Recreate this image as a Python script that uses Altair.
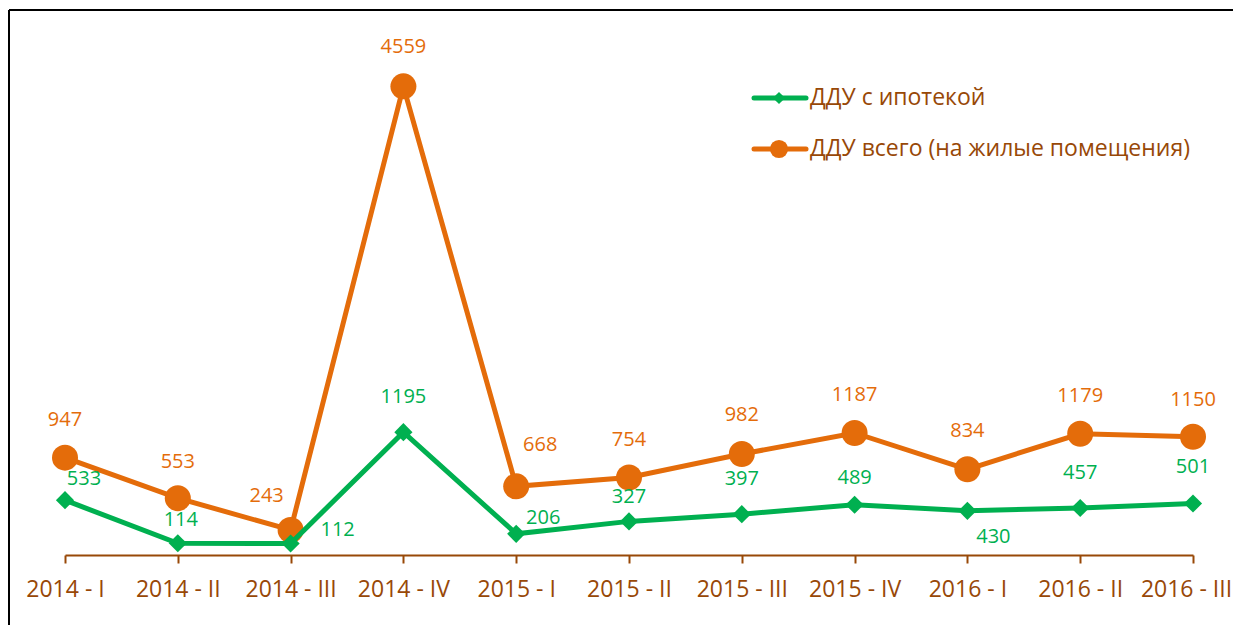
import altair as alt
import pandas as pd

categories = ["2014 - I", "2014 - II", "2014 - III", "2014 - IV", "2015 - I", "2015 - II",
              "2015 - III", "2015 - IV", "2016 - I", "2016 - II", "2016 - III"]
green_values = [533, 114, 112, 1195, 206, 327, 397, 489, 430, 457, 501]
orange_values = [947, 553, 243, 4559, 668, 754, 982, 1187, 834, 1179, 1150]
series_names = ["ДДУ с ипотекой", "ДДУ всего (на жилые помещения)"]

GREEN = "#00B050"
ORANGE = "#E46C0A"
BROWN = "#984807"
FONT = "Open Sans"

# label offsets (style only)
green_off = [(19, -21), (3, -23), (47, -13), (0, -35), (27, -16), (0, -24),
             (0, -35), (0, -27), (26, 26), (0, -35), (0, -36)]
orange_off = [(0, -38), (0, -36), (-24, -34), (0, -39), (24, -41), (0, -37),
              (0, -39), (0, -38), (0, -38), (0, -38), (0, -37)]

W, H = 1128, 514

df = pd.DataFrame({
    "cat": categories * 2,
    "value": green_values + orange_values,
    "series": [series_names[0]] * len(categories) + [series_names[1]] * len(categories),
})

last_cat = categories[-1]
x = alt.X("cat:N", sort=categories, scale=alt.Scale(type="point", padding=0),
          axis=alt.Axis(title=None, labelAngle=0, domainColor=BROWN, domainWidth=2,
                        tickColor=BROWN, tickWidth=2, tickSize=8, labelColor=BROWN,
                        labelFont=FONT, labelFontSize=23, labelPadding=15, grid=False,
                        labelOffset={"condition": {"test": f"datum.value === '{last_cat}'", "value": -7},
                                     "value": 0}))
y = alt.Y("value:Q", scale=alt.Scale(domain=[0, 5000], nice=False, zero=True), axis=None)

base = alt.Chart(df).encode(x=x, y=y)

g = base.transform_filter(alt.datum.series == series_names[0])
o = base.transform_filter(alt.datum.series == series_names[1])

layers = [
    o.mark_line(color=ORANGE, strokeWidth=5),
    o.mark_point(shape="circle", size=676, filled=True, color=ORANGE, opacity=1),
    g.mark_line(color=GREEN, strokeWidth=5),
    g.mark_point(shape="diamond", size=330, filled=True, color=GREEN, opacity=1),
]

for i, c in enumerate(categories):
    dx, dy = orange_off[i]
    layers.append(
        o.transform_filter(alt.datum.cat == c).mark_text(
            font=FONT, fontSize=20, color=ORANGE, dx=dx, dy=dy, baseline="middle", align="center"
        ).encode(text="value:Q")
    )
    dx, dy = green_off[i]
    layers.append(
        g.transform_filter(alt.datum.cat == c).mark_text(
            font=FONT, fontSize=20, color=GREEN, dx=dx, dy=dy, baseline="middle", align="center"
        ).encode(text="value:Q")
    )

# Legend (manual)
leg = pd.DataFrame({"series": series_names, "row": [0, 1]})
for r, (shape, size, col) in enumerate([("diamond", 150, GREEN), ("circle", 330, ORANGE)]):
    ly = 57 + r * 51
    sub = alt.Chart(leg).transform_filter(alt.datum.row == r)
    layers.append(sub.mark_rule(color=col, strokeWidth=5, strokeCap="round").encode(
        x=alt.value(689), x2=alt.value(741), y=alt.value(ly)))
    layers.append(sub.mark_point(shape=shape, size=size, filled=True, color=col, opacity=1).encode(
        x=alt.value(714), y=alt.value(ly)))
    layers.append(sub.mark_text(font=FONT, fontSize=23, color=BROWN, align="left", baseline="middle").encode(
        x=alt.value(745), y=alt.value(ly), text="series:N"))

# Frame lines
frame = alt.Chart(pd.DataFrame({"a": [0]}))
layers.append(frame.mark_rule(color="black", strokeWidth=2).encode(
    x=alt.value(-56), x2=alt.value(W + 100), y=alt.value(-31)))
layers.append(frame.mark_rule(color="black", strokeWidth=2).encode(
    x=alt.value(-56), y=alt.value(-31), y2=alt.value(H + 120)))

chart = alt.layer(*layers).properties(
    width=W, height=H,
    background="white",
    autosize=alt.AutoSizeParams(type="none"),
    padding={"left": 57, "top": 33, "right": 40, "bottom": 70},
).configure_view(strokeWidth=0, stroke="transparent")

chart.save("out.html", embed_options={"renderer": "svg", "actions": False})
